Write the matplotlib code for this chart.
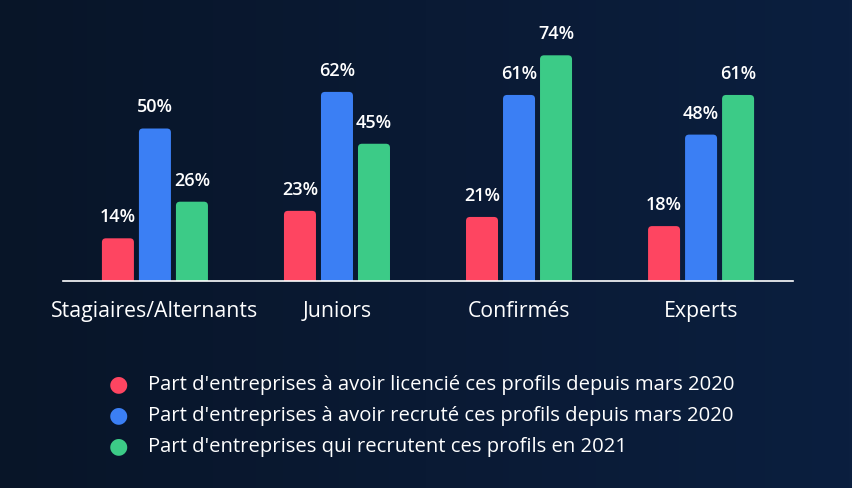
import numpy as np
import matplotlib.pyplot as plt
from matplotlib.patches import FancyBboxPatch
from matplotlib.colors import LinearSegmentedColormap

categories = ["Stagiaires/Alternants", "Juniors", "Confirmés", "Experts"]
licencie = [14, 23, 21, 18]
recrute = [50, 62, 61, 48]
recrutent_2021 = [26, 45, 74, 61]
series_labels = [
    "Part d'entreprises à avoir licencié ces profils depuis mars 2020",
    "Part d'entreprises à avoir recruté ces profils depuis mars 2020",
    "Part d'entreprises qui recrutent ces profils en 2021",
]
colors = ["#fe4561", "#3b7ff4", "#3ccb87"]

plt.rcParams['font.family'] = ['Open Sans', 'DejaVu Sans']

W, H = 852, 489
fig = plt.figure(figsize=(W / 100, H / 100), dpi=100)

# background gradient
bg = fig.add_axes([0, 0, 1, 1], zorder=-10)
grad = np.linspace(0, 1, 256)[None, :]
cmap = LinearSegmentedColormap.from_list("bg", ["#081528", "#0a1a34", "#0b1f3f"])
bg.imshow(grad, aspect='auto', cmap=cmap, extent=[0, 1, 0, 1])
bg.axis('off')

# chart axes
left, right = 63, 793
base_y, top_y = 282, 20
ax = fig.add_axes([left / W, (H - base_y) / H, (right - left) / W, (base_y - top_y) / H])
ax.set_facecolor('none')
px_x = 182.0
px_y = 3.05
ax.set_xlim(-0.505, 3.505)
ax.set_ylim(0, (base_y - top_y) / px_y)

bar_w = 32 / px_x
offset = 37 / px_x
aspect = px_x / px_y
r = 4 / px_x

x = np.arange(len(categories))
for i, (vals, c) in enumerate(zip([licencie, recrute, recrutent_2021], colors)):
    for xi, v in zip(x + (i - 1) * offset, vals):
        p = FancyBboxPatch((xi - bar_w / 2, -3), bar_w, v + 3,
                           boxstyle=f"round,pad=0,rounding_size={r}",
                           mutation_aspect=aspect, fc=c, ec='none')
        ax.add_patch(p)
        ax.text(xi, v + 22 / px_y, f"{v}%", ha='center', va='center',
                color='white', fontsize=13, fontweight='semibold')

ax.axhline(0, color='white', lw=1.2, clip_on=False)
for s in ax.spines.values():
    s.set_visible(False)
ax.set_xticks(x)
ax.set_xticklabels(categories, color='white', fontsize=15.3)
ax.tick_params(axis='x', length=0, pad=14)
ax.set_yticks([])

# legend
for k, (lab, c) in enumerate(zip(series_labels, colors)):
    yy = 1 - (385 + 31 * k) / H
    fig.text(118 / W, yy, "●", color=c, fontsize=16, ha='center', va='center')
    fig.text(148 / W, yy, lab, color='white', fontsize=14.6, ha='left', va='center')

fig.savefig("out.png", dpi=100, facecolor=fig.get_facecolor())
